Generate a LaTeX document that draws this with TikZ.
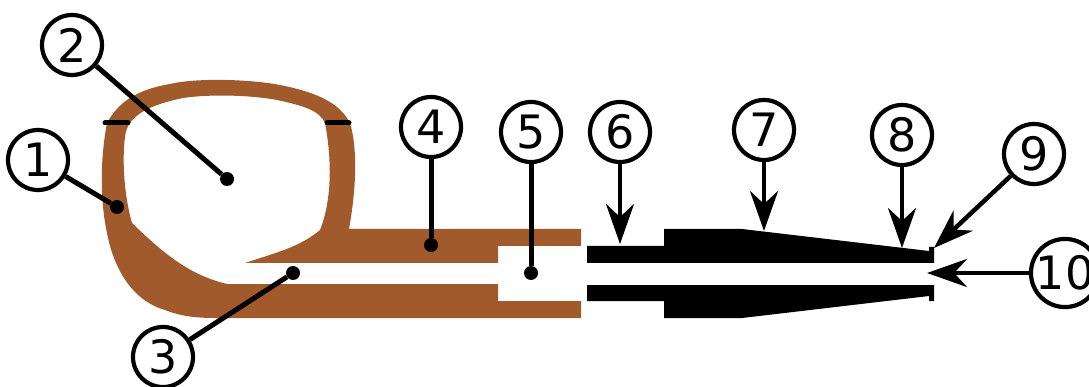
\documentclass[tikz,border=0pt]{standalone}
\usepackage{fontspec}
\setmainfont{DejaVu Sans}
\usetikzlibrary{arrows.meta}
\definecolor{pipebrown}{HTML}{A05A2C}
\tikzset{
  num/.style={circle,draw=black,fill=white,line width=4.2pt,minimum size=60pt,inner sep=0pt,font=\fontsize{46}{46}\selectfont},
  enddot/.style={circle,fill=black,minimum size=14pt,inner sep=0pt},
  leader/.style={line width=5pt,draw=black},
  pointer/.style={line width=4.5pt,draw=black,-{Stealth[length=40pt,width=28pt,inset=13pt]}},
  tick/.style={line width=5pt,draw=black,line cap=round}
}
\begin{document}
\begin{tikzpicture}[x=1pt,y=-1pt]
\useasboundingbox (0,0) rectangle (1089,387);
% brown body
\fill[pipebrown] (581,229) -- (349,229)
  .. controls (356,190) and (358,150) .. (350,123)
  .. controls (340,104) and (320,93) .. (280,85)
  .. controls (255,80) and (200,77) .. (170,84)
  .. controls (135,90) and (118,103) .. (107,123)
  .. controls (100,160) and (100,200) .. (107,233)
  .. controls (113,265) and (130,300) .. (165,310)
  .. controls (180,316) and (195,318) .. (215,318)
  -- (581,318) -- (581,301) -- (498,301) -- (498,284) -- (227,284)
  .. controls (190,275) and (165,255) .. (132,223)
  .. controls (124,195) and (122,160) .. (125,137)
  .. controls (127,115) and (150,105) .. (183,98)
  .. controls (210,94) and (250,95) .. (277,100)
  .. controls (300,105) and (320,110) .. (325,123)
  .. controls (332,160) and (332,200) .. (320,230)
  .. controls (300,247) and (275,253) .. (245,263)
  -- (498,263) -- (498,246) -- (581,246) -- cycle;
% black parts
\fill[black] (587,246) -- (664,246) -- (664,229) -- (742,229) -- (929,251) -- (929,247) -- (934,247) -- (934,263) -- (587,263) -- cycle;
\fill[black] (587,285) -- (934,285) -- (934,301) -- (929,301) -- (929,296) -- (742,318) -- (664,318) -- (664,301) -- (587,301) -- cycle;
\coordinate (tl1) at (105,123); \coordinate (tl2) at (128,123);
\coordinate (tr1) at (327,123); \coordinate (tr2) at (349,123);
\draw[tick] (tl1) -- (tl2);
\draw[tick] (tr1) -- (tr2);
% labels
\node[num] (n1) at (38,160) {1};
\node[num] (n2) at (72,45) {2};
\node[num] (n3) at (163,357) {3};
\node[num] (n4) at (431,127) {4};
\node[num] (n5) at (531,132) {5};
\node[num] (n6) at (620,132) {6};
\node[num] (n7) at (764,130) {7};
\node[num] (n8) at (902,135) {8};
\node[num] (n9) at (1034,154) {9};
\node[num] (n10) at (1065,273) {10};
% ends
\node[enddot] (d1) at (117,207) {};
\node[enddot] (d2) at (227,179) {};
\node[enddot] (d3) at (293,273) {};
\node[enddot] (d4) at (431,245) {};
\node[enddot] (d5) at (531,273) {};
\coordinate (t6) at (620,244);
\coordinate (t7) at (764,231);
\coordinate (t8) at (902,248);
\coordinate (t9) at (934,248);
\coordinate (t10) at (927,273);
% connectors
\draw[leader] (n1) -- (d1);
\draw[leader] (n2) -- (d2);
\draw[leader] (n3) -- (d3);
\draw[leader] (n4) -- (d4);
\draw[leader] (n5) -- (d5);
\draw[pointer] (n6) -- (t6);
\draw[pointer] (n7) -- (t7);
\draw[pointer] (n8) -- (t8);
\draw[pointer] (n9) -- (t9);
\draw[pointer] (n10) -- (t10);
\end{tikzpicture}
\end{document}
